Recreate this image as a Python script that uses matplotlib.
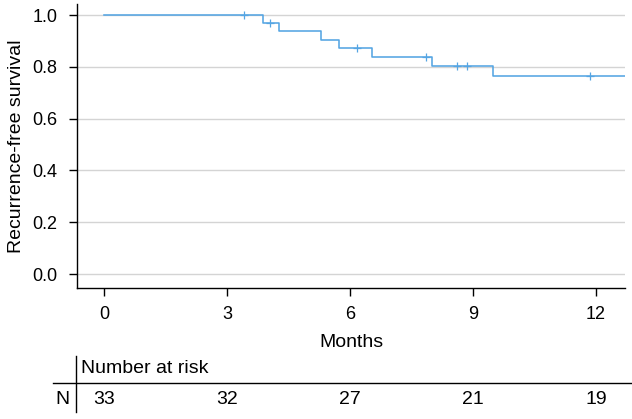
import matplotlib.pyplot as plt
import matplotlib.transforms as mtransforms
from matplotlib.lines import Line2D

plt.rcParams['font.family'] = ['Liberation Sans', 'DejaVu Sans']

# Kaplan-Meier estimate
event_times = [0, 3.88, 4.27, 5.29, 5.73, 6.53, 8.0, 9.49, 12.7]
survival = [1.0, 0.969, 0.937, 0.904, 0.872, 0.838, 0.803, 0.764, 0.764]

censor_times = [3.41, 4.05, 6.17, 7.85, 8.6, 8.85, 11.85]
censor_surv = [1.0, 0.969, 0.872, 0.838, 0.803, 0.803, 0.764]

risk_times = [0, 3, 6, 9, 12]
risk_counts = [33, 32, 27, 21, 19]

line_color = '#55a5e3'

fig = plt.figure(figsize=(6.32, 4.19), dpi=100)
ax = fig.add_axes([77/632, 1 - 288/419, (625 - 77)/632, (288 - 4)/419])

ax.step(event_times, survival, where='post', color=line_color, lw=1.15, zorder=3)
ax.plot(censor_times, censor_surv, ls='none', marker='+', ms=6, mew=0.9,
        color=line_color, zorder=3)

ax.set_xlim(-0.659, 12.707)
ax.set_ylim(-0.054, 1.0425)
ax.set_xticks([0, 3, 6, 9, 12])
ax.set_yticks([0, 0.2, 0.4, 0.6, 0.8, 1.0])
ax.set_yticklabels(['0.0', '0.2', '0.4', '0.6', '0.8', '1.0'])
ax.yaxis.grid(True, color='#d4d4d4', lw=1.0)
ax.set_axisbelow(True)

for s in ['top', 'right']:
    ax.spines[s].set_visible(False)
for s in ['left', 'bottom']:
    ax.spines[s].set_linewidth(1.0)
ax.tick_params(axis='both', direction='out', length=6, width=1.0,
               labelsize=13)
ax.tick_params(axis='x', pad=7)
ax.tick_params(axis='y', pad=8)

ax.set_xlabel('Months', fontsize=14, labelpad=8)
ax.set_ylabel('Recurrence-free survival', fontsize=14, labelpad=5)

# Number at risk table
trans = mtransforms.blended_transform_factory(ax.transData, fig.transFigure)
for t, n in zip(risk_times, risk_counts):
    fig.text(t, 1 - 399/419, str(n), transform=trans, ha='center',
             va='center', fontsize=14)
fig.text(81/632, 1 - 368/419, 'Number at risk', ha='left', va='center',
         fontsize=14)
fig.text(62/632, 1 - 399/419, 'N', ha='center', va='center', fontsize=14)

fig.add_artist(Line2D([76/632, 76/632], [1 - 412/419, 1 - 356/419],
                      color='black', lw=1.0))
fig.add_artist(Line2D([53/632, 1.0], [1 - 383/419, 1 - 383/419],
                      color='black', lw=1.0))

fig.savefig('out.png', dpi=100)
